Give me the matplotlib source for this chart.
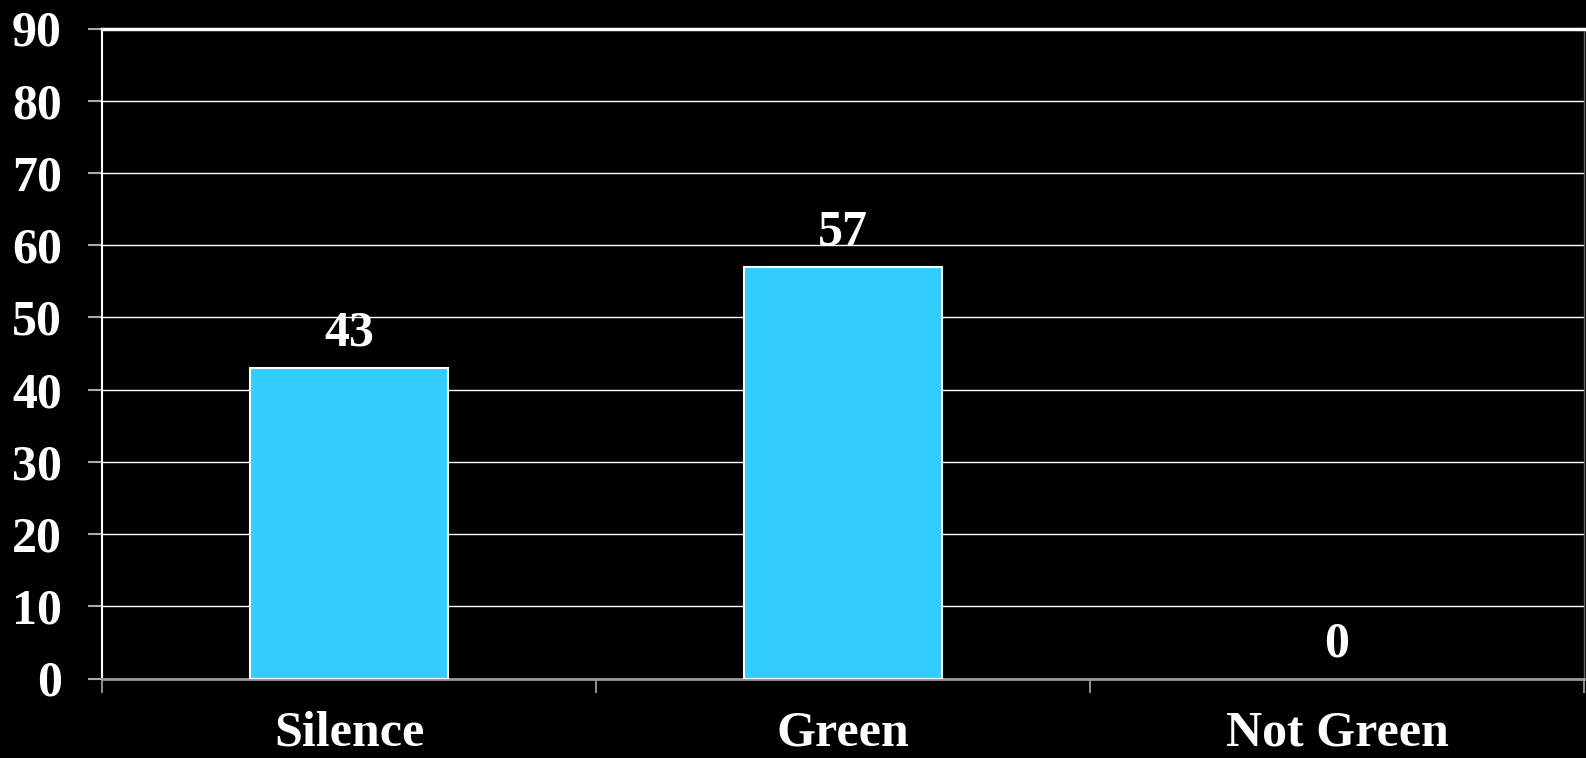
import matplotlib
matplotlib.use("Agg")
import matplotlib.pyplot as plt
import numpy as np

categories = ["Silence", "Green", "Not Green"]
values = [43, 57, 0]
yticks = [0, 10, 20, 30, 40, 50, 60, 70, 80, 90]

plt.rcParams['font.family'] = ['Liberation Serif', 'DejaVu Serif']
plt.rcParams['font.weight'] = 'bold'

fig = plt.figure(figsize=(15.86, 7.58), dpi=100, facecolor='black')
ax = fig.add_axes([102/1586, 1-678.5/758, (1584-102)/1586, (678.5-28.5)/758])
ax.set_facecolor('black')

x = np.arange(len(categories))
edge_w = [1.5 if v > 0 else 0 for v in values]
bars = ax.bar(x, values, width=0.4, color='#33CCFF', edgecolor='white', linewidth=edge_w, zorder=3)
for xi, v in zip(x, values):
    ax.annotate(str(v), (xi, v), xytext=(0, 8), textcoords='offset points',
                ha='center', va='bottom', color='white', fontsize=36, fontweight='bold')

ax.set_xlim(-0.5, 2.5)
ax.set_ylim(0, 90)
ax.set_yticks(yticks)
ax.set_yticklabels([str(t) for t in yticks])
ax.yaxis.grid(True, color='white', linewidth=1.0, zorder=0)
ax.set_axisbelow(True)

ax.set_xticks([-0.5, 0.5, 1.5, 2.5])
ax.set_xticklabels([])
ax.set_xticks(x, minor=True)
ax.set_xticklabels(categories, minor=True)
ax.tick_params(axis='x', which='minor', length=0, pad=23, labelsize=36, labelcolor='white')
ax.tick_params(axis='x', which='major', length=10, width=1.2, color='#aaaaaa', direction='out')
ax.tick_params(axis='y', length=10, width=1.5, color='#aaaaaa', pad=19, labelsize=36, labelcolor='white')

ax.spines['left'].set_color('white')
ax.spines['left'].set_linewidth(1.5)
ax.spines['top'].set_color('white')
ax.spines['top'].set_linewidth(2.5)
ax.spines['bottom'].set_color('#999999')
ax.spines['bottom'].set_linewidth(2)
ax.spines['right'].set_color('#666666')
ax.spines['right'].set_linewidth(1)

for lab in ax.get_yticklabels() + ax.get_xticklabels(minor=True):
    lab.set_fontweight('bold')

fig.savefig("out.png", dpi=100, facecolor='black')
